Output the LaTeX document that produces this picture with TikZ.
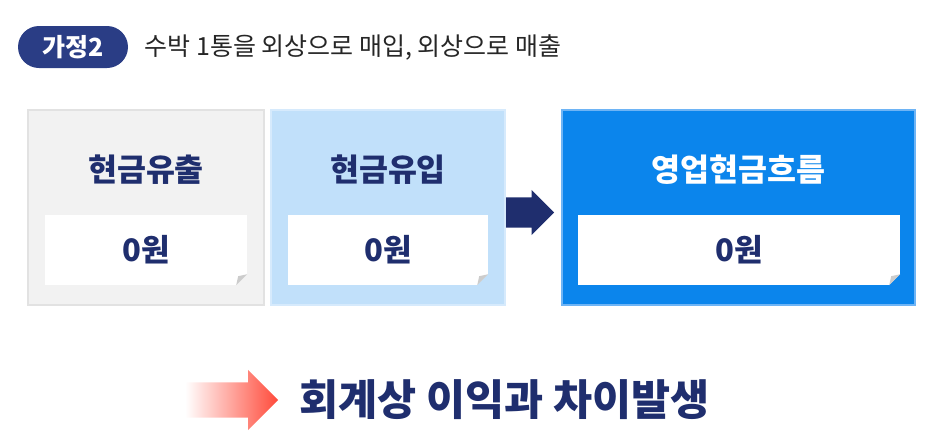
\documentclass[tikz,border=0pt]{standalone}
\usepackage{fontspec}
\setmainfont{Noto Sans CJK KR}
\usepackage{tikz}
\usetikzlibrary{positioning,shapes.arrows}
\definecolor{navy}{RGB}{31,46,110}
\definecolor{badge}{RGB}{42,61,133}
\definecolor{grayfill}{RGB}{242,242,242}
\definecolor{grayline}{RGB}{226,226,226}
\definecolor{skyfill}{RGB}{193,224,250}
\definecolor{skyline}{RGB}{214,234,252}
\definecolor{bluefill}{RGB}{11,133,236}
\definecolor{blueline}{RGB}{110,180,245}
\definecolor{flap}{RGB}{204,204,204}
\definecolor{hot}{RGB}{255,74,58}

\begin{document}
\begin{tikzpicture}[x=1pt,y=-1pt,
  box/.style={draw=#1line,fill=#1fill,line width=1.5pt,minimum height=195pt,inner sep=0pt},
  card/.style={fill=white,minimum height=70pt,inner sep=0pt,
               font=\fontsize{31}{34}\selectfont\bfseries,text=navy},
  ttl/.style={font=\fontsize{31.5}{34}\selectfont\bfseries,text=navy}]
  \useasboundingbox (0,0) rectangle (940,440);
  % heading
  \node[fill=badge,rounded corners=21pt,minimum width=110pt,minimum height=42pt,
        text=white,font=\fontsize{25}{27}\selectfont\bfseries] (tag) at (73,47) {가정2};
  \node[anchor=west,font=\fontsize{25}{27}\selectfont,text=black!85] (case) at (141,47)
        {수박 1통을 외상으로 매입, 외상으로 매출};
  % three boxes
  \node[box=gray,minimum width=236pt] (out) at (146,207.5) {};
  \node[box=sky,minimum width=234pt] (in) at (388,207.5) {};
  \node[box=blue,minimum width=353pt] (ocf) at (738.5,207.5) {};
  \node[ttl] (outT) at (146,170) {현금유출};
  \node[ttl] (inT) at (388,170) {현금유입};
  \node[ttl,text=white] (ocfT) at (738.5,170) {영업현금흐름};
  \node[card,minimum width=202pt] (outC) at (146,250) {0원};
  \node[card,minimum width=200pt] (inC) at (388,250) {0원};
  \node[card,minimum width=322pt] (ocfC) at (739,250) {0원};
  % folded corners
  \foreach \c/\f in {outC/grayfill,inC/skyfill,ocfC/bluefill}{
    \fill[\f] (\c.south east) -- ([xshift=-11pt]\c.south east) -- ([yshift=11pt]\c.south east) -- cycle;
    \fill[flap] ([xshift=-11pt]\c.south east) -- ([yshift=11pt]\c.south east)
                -- ([shift={(-9pt,9pt)}]\c.south east) -- cycle;
  }
  % arrows
  \node[single arrow,fill=navy,minimum height=48pt,inner xsep=0pt,inner ysep=15pt,
        single arrow head extend=7.5pt,anchor=tail] (go) at (506,212.5) {};
  \node[single arrow,left color=white,right color=hot,minimum height=93pt,
        inner xsep=0pt,inner ysep=17.5pt,single arrow head extend=12.5pt,anchor=tail]
        (hint) at (185,400) {};
  \node[anchor=west,font=\fontsize{42.5}{46}\selectfont\bfseries,text=navy] (result) at (296,400)
        {회계상 이익과 차이발생};
\end{tikzpicture}
\end{document}
